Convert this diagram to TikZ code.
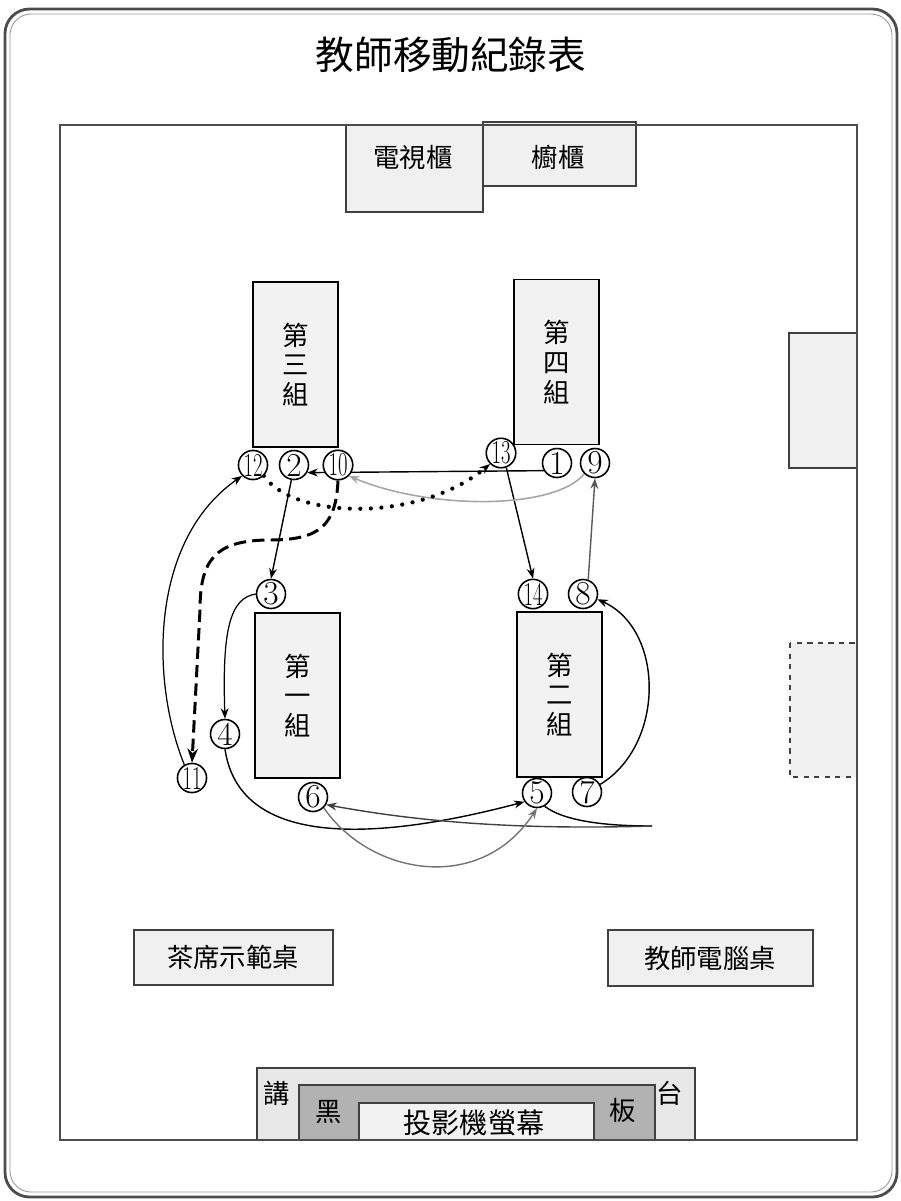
\documentclass[tikz,border=0pt]{standalone}
\usepackage{fontspec}
\usepackage{graphicx}
\newfontfamily\cjk{Noto Sans CJK TC}
\usetikzlibrary{arrows.meta,backgrounds}
\newcommand{\twodig}[1]{\scalebox{.62}[1]{#1}}
\begin{document}
\begin{tikzpicture}[x=0.02cm,y=-0.02cm,
    wall/.style={draw=black!70,line width=1pt},
    furn/.style={draw=black!75,line width=.8pt,fill=black!6},
    tip/.style={-{Stealth[length=6pt,width=4.5pt]}}]

      \useasboundingbox (0,0) rectangle (901,1201);

      % frame and title
      \draw[black!70,line width=1.6pt,rounded corners=14pt] (5,9) rectangle (897,1197);
      \draw[black!40,line width=.5pt,rounded corners=12pt] (10,14) rectangle (892,1192);
      \node[font=\cjk\fontsize{22}{26}\selectfont] (title) at (451,55) {教師移動紀錄表};

      % furniture
      \draw[furn] (346,125) rectangle (483,212);
      \draw[furn] (483,122) rectangle (636,186);
      \draw[furn] (789,333) rectangle (857,468);
      \draw[furn,dashed] (790,643) rectangle (857,777);
      \draw[furn] (134,930) rectangle (333,985);
      \draw[furn] (608,930) rectangle (813,986);
      \draw[furn,fill=black!9] (257,1068) rectangle (695,1140);
      \draw[furn,fill=black!30] (299,1085) rectangle (655,1140);
      \draw[furn,fill=black!5] (359,1103) rectangle (594,1140);
      \draw[wall] (60,125) rectangle (857,1140);

      \begin{scope}[every node/.style={font=\cjk\fontsize{15}{15}\selectfont}]
        \node (tv)     at (413,157)  {電視櫃};
        \node (cab)    at (558,157)  {櫥櫃};
        \node (tea)    at (233,957)  {茶席示範桌};
        \node (pc)     at (710,958)  {教師電腦桌};
        \node (jiang)  at (277,1093) {講};
        \node (tai)    at (670,1093) {台};
        \node (hei)    at (329,1112) {黑};
        \node (ban)    at (623,1110) {板};
        \node[font=\cjk\fontsize{16}{16}\selectfont] (screen) at (474,1123) {投影機螢幕};
      \end{scope}

      % groups
      \begin{scope}[every node/.style={draw,line width=1pt,fill=black!5,minimum width=1.7cm,
          minimum height=3.3cm,align=center,font=\cjk\fontsize{15}{17}\selectfont}]
        \node (g3) at (295.5,364.5) {第\\三\\組};
        \node (g4) at (556.5,362)   {第\\四\\組};
        \node (g1) at (297.5,695.5) {第\\一\\組};
        \node (g2) at (559.5,694.5) {第\\二\\組};
      \end{scope}

      % stops
      \begin{scope}[every node/.style={circle,draw,line width=.9pt,fill=white,inner sep=0pt,
          minimum size=.58cm,font=\fontsize{19}{19}\selectfont}]
        \node (1)  at (557,463) {1};
        \node (2)  at (294,465) {2};
        \node (3)  at (271,594) {3};
        \node (4)  at (225,734) {4};
        \node (5)  at (537,793) {5};
        \node (6)  at (313,797) {6};
        \node (7)  at (587,792) {7};
        \node (8)  at (583,594) {8};
        \node (9)  at (595,463) {9};
        \node (10) at (338,465) {\twodig{10}};
        \node (11) at (192,778) {\twodig{11}};
        \node (12) at (253,465) {\twodig{12}};
        \node (13) at (501,453) {\twodig{13}};
        \node (14) at (533,594) {\twodig{14}};
      \end{scope}
      \coordinate (turn) at (652,826);

      % route
      \begin{pgfonlayer}{background}
        \begin{scope}[every edge/.style={draw,tip,line width=.8pt}]
          \path (1.210)  edge (2.330);
          \path (2.260)  edge (3.north);
          \path (8.70)   edge[draw=black!65] (9.south);
          \path (13.290) edge (14.north);
        \end{scope}
        \draw[tip,line width=.7pt] (3.west) .. controls (230,598) and (222,630) .. (4.north);
        \draw[tip,line width=.8pt] (4.south) .. controls (240,850) and (380,840) .. (5.215);
        \draw[line width=.8pt] (5.300) .. controls (565,822) and (610,826) .. (turn);
        \draw[tip,line width=.8pt,draw=black!75] (turn) .. controls (520,830) and (420,822) .. (6.330);
        \draw[tip,line width=.8pt,draw=black!55] (6.south east) .. controls (370,875) and (480,895) .. (5.south);
        \draw[tip,line width=.8pt] (7.30) .. controls (665,745) and (665,630) .. (8.340);
        \draw[tip,line width=.9pt,draw=black!35] (9.south west) .. controls (555,510) and (430,510) .. (10.south east);
        \draw[-{Stealth[length=8pt,width=6pt]},line width=1.7pt,dash pattern=on 7pt off 3.5pt]
          (10.south) .. controls (336,525) and (320,540) .. (270,540)
          .. controls (215,540) and (200,560) .. (200,610) -- (11.north);
        \draw[tip,line width=.7pt] (11.120) .. controls (150,680) and (150,540) .. (12.225);
        \draw[tip,line width=2.4pt,line cap=round,dash pattern=on 0pt off 6pt]
          (12.south east) .. controls (295,520) and (420,522) .. (13.south west);
      \end{pgfonlayer}

    \end{tikzpicture}
\end{document}
